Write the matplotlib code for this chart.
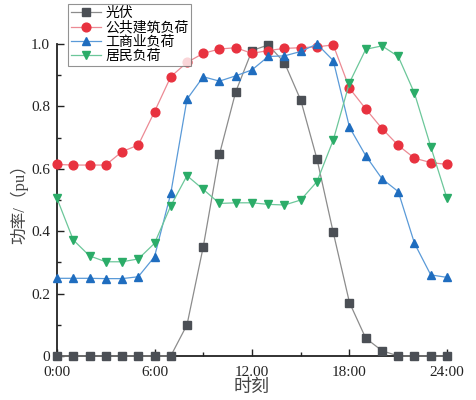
import matplotlib
matplotlib.use("Agg")
import matplotlib.pyplot as plt
from matplotlib.ticker import MultipleLocator, FixedLocator

plt.rcParams['font.family'] = ['Liberation Serif', 'Noto Sans CJK SC']
plt.rcParams['axes.unicode_minus'] = False

hours = list(range(25))
solar = [0, 0, 0, 0, 0, 0, 0, 0, 0.10, 0.35, 0.647, 0.847, 0.979, 0.997, 0.94,
         0.82, 0.631, 0.396, 0.171, 0.057, 0.017, 0, 0, 0, 0]
public = [0.614, 0.612, 0.612, 0.612, 0.655, 0.676, 0.783, 0.895, 0.941, 0.97,
          0.984, 0.988, 0.97, 0.979, 0.986, 0.988, 0.991, 0.997, 0.858, 0.792,
          0.729, 0.675, 0.634, 0.62, 0.614]
commercial = [0.249, 0.249, 0.249, 0.248, 0.248, 0.254, 0.318, 0.521, 0.823, 0.895,
              0.881, 0.898, 0.917, 0.96, 0.962, 0.976, 1.0, 0.947, 0.733, 0.642,
              0.568, 0.527, 0.361, 0.26, 0.252]
resident = [0.505, 0.372, 0.321, 0.302, 0.302, 0.311, 0.361, 0.481, 0.578, 0.534,
            0.489, 0.491, 0.491, 0.486, 0.484, 0.50, 0.559, 0.692, 0.876, 0.983,
            0.994, 0.96, 0.842, 0.671, 0.505]
names = ['光伏', '公共建筑负荷', '工商业负荷', '居民负荷']
xtick_labels = ['0:00', '6:00', '12.00', '18:00', '24:00']

fig = plt.figure(figsize=(4.77, 4.0), dpi=100)
ax = fig.add_axes([0.1195, 0.11, 0.8176, 0.78])

styles = [
    (solar, 's', '#4b4f55', '#8c8c8c'),
    (public, 'o', '#e8323f', '#ec8a94'),
    (commercial, '^', '#1f6dbf', '#5a9ad8'),
    (resident, 'v', '#2bac68', '#6cc79a'),
]
for (vals, mk, mc, lc), name in zip(styles, names):
    ax.plot(hours, vals, color=lc, lw=0.9, marker=mk, markersize=6.3,
            markerfacecolor=mc, markeredgecolor=mc, label=name, clip_on=False,
            zorder=3)

ax.set_xlim(0, 24)
ax.set_ylim(0, 1.0)
ax.xaxis.set_major_locator(FixedLocator([0, 6, 12, 18, 24]))
ax.set_xticklabels(xtick_labels)
ax.xaxis.set_minor_locator(MultipleLocator(3))
ax.yaxis.set_major_locator(FixedLocator([0, 0.2, 0.4, 0.6, 0.8, 1.0]))
ax.set_yticklabels(['0', '0.2', '0.4', '0.6', '0.8', '1.0'])
ax.yaxis.set_minor_locator(MultipleLocator(0.1))
ax.tick_params(which='both', direction='in', labelsize=11, width=1.0,
               colors='#222222')
ax.tick_params(which='major', length=5)
ax.tick_params(which='minor', length=3)
ax.tick_params(axis='x', which='major', pad=7)
ax.tick_params(axis='y', which='major', pad=5)
for s in ['top', 'right']:
    ax.spines[s].set_visible(False)
for s in ['left', 'bottom']:
    ax.spines[s].set_linewidth(1.3)
    ax.spines[s].set_color('#222222')

ax.set_xlabel('时刻', fontsize=13, color='#444444', labelpad=0)
ax.set_ylabel('功率/（pu）', fontsize=12, color='#444444', labelpad=2)

leg = ax.legend(loc='upper left', bbox_to_anchor=(0.028, 1.128), fontsize=10,
                frameon=True, fancybox=False, borderpad=0.2, labelspacing=0.08,
                handlelength=2.2, handletextpad=0.3, borderaxespad=0)
leg.get_frame().set_edgecolor('#777777')
leg.get_frame().set_linewidth(0.8)

fig.savefig('out.png', dpi=100)
